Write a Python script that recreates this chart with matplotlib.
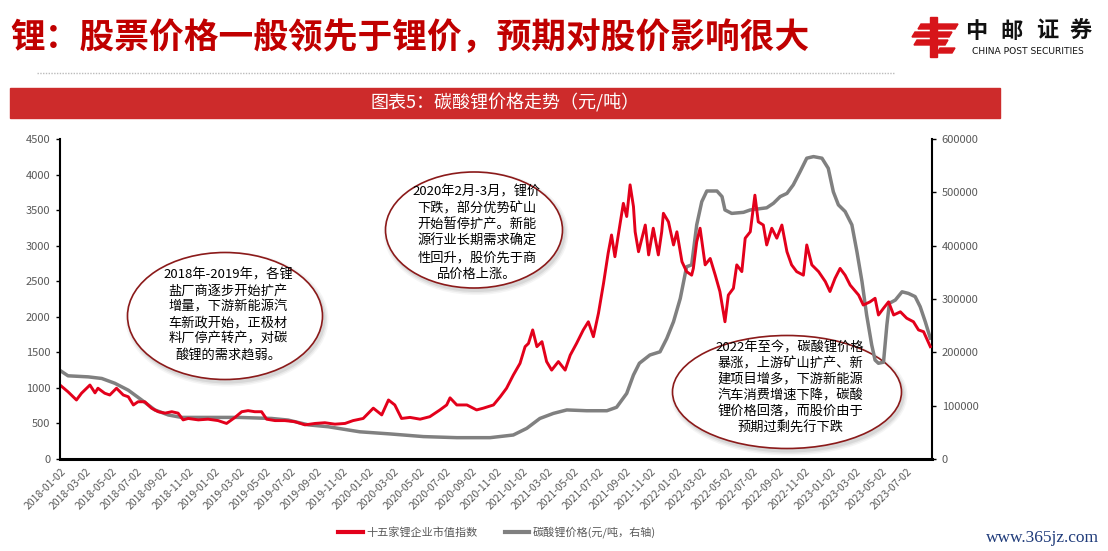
import matplotlib
matplotlib.use("Agg")
import matplotlib.pyplot as plt
from matplotlib.patches import Ellipse, Rectangle, Polygon
from matplotlib.lines import Line2D
import pandas as pd

plt.rcParams['font.family'] = ['Noto Sans CJK SC', 'DejaVu Sans']

# 十五家锂企业市值指数 (left axis)
index_dates = [
    "2018-01-02", "2018-01-19", "2018-02-08", "2018-02-20", "2018-03-12", "2018-03-24", "2018-03-31", "2018-04-16", "2018-04-28", "2018-05-14",
    "2018-05-30", "2018-06-11", "2018-06-23", "2018-07-04", "2018-07-20", "2018-08-05", "2018-08-21", "2018-09-06", "2018-09-22", "2018-10-07",
    "2018-10-19", "2018-10-31", "2018-11-24", "2018-12-17", "2019-01-10", "2019-01-30", "2019-02-19", "2019-03-07", "2019-03-22", "2019-04-07",
    "2019-04-23", "2019-05-05", "2019-05-25", "2019-06-17", "2019-07-11", "2019-08-04", "2019-08-28", "2019-09-20", "2019-10-14", "2019-11-07",
    "2019-11-26", "2019-12-20", "2020-01-13", "2020-02-02", "2020-02-18", "2020-03-04", "2020-03-20", "2020-04-09", "2020-05-03", "2020-05-26",
    "2020-06-19", "2020-07-05", "2020-07-13", "2020-07-29", "2020-08-22", "2020-09-14", "2020-09-30", "2020-10-24", "2020-11-09", "2020-11-24",
    "2020-12-10", "2020-12-26", "2021-01-07", "2021-01-15", "2021-01-25", "2021-02-04", "2021-02-16", "2021-02-27", "2021-03-11", "2021-03-27",
    "2021-04-12", "2021-04-24", "2021-05-09", "2021-05-25", "2021-06-06", "2021-06-18", "2021-06-30", "2021-07-12", "2021-07-23", "2021-07-31",
    "2021-08-08", "2021-08-16", "2021-08-28", "2021-09-05", "2021-09-13", "2021-09-21", "2021-09-25", "2021-10-03", "2021-10-11", "2021-10-19",
    "2021-10-27", "2021-11-07", "2021-11-19", "2021-11-27", "2021-12-01", "2021-12-13", "2021-12-25", "2022-01-02", "2022-01-14", "2022-01-25",
    "2022-02-06", "2022-02-10", "2022-02-18", "2022-02-26", "2022-03-10", "2022-03-22", "2022-04-03", "2022-04-14", "2022-04-26", "2022-05-04",
    "2022-05-16", "2022-05-24", "2022-06-05", "2022-06-13", "2022-06-25", "2022-07-06", "2022-07-14", "2022-07-26", "2022-08-03", "2022-08-15",
    "2022-08-27", "2022-09-08", "2022-09-20", "2022-10-01", "2022-10-13", "2022-10-29", "2022-11-06", "2022-11-18", "2022-12-04", "2022-12-20",
    "2022-12-31", "2023-01-12", "2023-01-24", "2023-02-05", "2023-02-17", "2023-03-09", "2023-03-20", "2023-04-05", "2023-04-17", "2023-04-25",
    "2023-05-07", "2023-05-19", "2023-05-31", "2023-06-16", "2023-07-01", "2023-07-17", "2023-07-29", "2023-08-10", "2023-08-26",
]
index_values = [
    1030, 945, 830, 925, 1040, 930, 995, 925, 900, 995,
    900, 875, 760, 805, 805, 715, 665, 645, 665, 645,
    550, 570, 550, 560, 540, 500, 585, 665, 680, 665,
    665, 560, 540, 540, 525, 480, 500, 510, 490, 500,
    540, 570, 715, 620, 830, 760, 570, 585, 560, 595,
    690, 760, 860, 760, 760, 690, 715, 760, 875, 995,
    1180, 1345, 1580, 1625, 1815, 1580, 1650, 1370, 1250, 1370,
    1250, 1460, 1625, 1815, 1930, 1720, 2050, 2470, 2895, 3150,
    2845, 3150, 3595, 3410, 3855, 3550, 3195, 2915, 3105, 3290,
    2870, 3245, 2870, 3195, 3455, 3335, 3010, 3195, 2775, 2635,
    2585, 2680, 3055, 3245, 2730, 2820, 2585, 2355, 1930, 2305,
    2400, 2730, 2635, 3105, 3195, 3710, 3335, 3290, 3010, 3245,
    3105, 3290, 2915, 2730, 2635, 2585, 3010, 2730, 2635, 2495,
    2355, 2540, 2680, 2585, 2445, 2305, 2165, 2210, 2260, 2025,
    2120, 2210, 2025, 2070, 1980, 1930, 1815, 1790, 1580,
]

# 碳酸锂价格 (元/吨, right axis)
price_dates = [
    "2018-01-02", "2018-01-19", "2018-03-08", "2018-04-09", "2018-05-10", "2018-06-11", "2018-07-12", "2018-08-13", "2018-09-14", "2018-10-15",
    "2018-12-10", "2019-02-27", "2019-05-17", "2019-06-25", "2019-08-12", "2019-09-28", "2019-11-26", "2019-12-12", "2020-02-22", "2020-05-11",
    "2020-07-29", "2020-10-16", "2020-12-10", "2021-01-11", "2021-02-11", "2021-03-15", "2021-04-16", "2021-06-02", "2021-07-20", "2021-08-12",
    "2021-09-05", "2021-09-21", "2021-10-05", "2021-10-30", "2021-11-23", "2021-12-09", "2021-12-25", "2022-01-10", "2022-01-25", "2022-02-06",
    "2022-02-18", "2022-03-02", "2022-03-14", "2022-04-07", "2022-04-19", "2022-04-26", "2022-05-12", "2022-06-09", "2022-06-25", "2022-08-03",
    "2022-08-19", "2022-09-04", "2022-09-20", "2022-10-05", "2022-10-21", "2022-11-06", "2022-11-22", "2022-12-12", "2022-12-27", "2023-01-08",
    "2023-01-20", "2023-02-05", "2023-02-21", "2023-03-05", "2023-03-17", "2023-03-28", "2023-04-09", "2023-04-17", "2023-04-25", "2023-05-07",
    "2023-05-15", "2023-05-21", "2023-06-04", "2023-06-20", "2023-07-05", "2023-07-21", "2023-08-02", "2023-08-14", "2023-08-26",
]
price_values = [
    165000, 156000, 154000, 151000, 142000, 129000, 111000, 92000, 82500, 78000,
    78000, 78000, 76000, 73000, 64000, 60500, 53000, 51000, 47000, 42000,
    40000, 40000, 45000, 57500, 76000, 85500, 92000, 90500, 90500, 97000,
    123000, 157500, 179500, 195000, 201000, 226000, 257500, 301000, 360500, 364000,
    439000, 482500, 502500, 502500, 492000, 467000, 460500, 462500, 467000, 471000,
    479500, 492000, 498000, 514000, 538500, 564000, 567000, 564000, 545000, 501000,
    476500, 464000, 439000, 388500, 332500, 270000, 214000, 185500, 179500, 181500,
    251500, 292000, 298000, 313500, 310500, 304500, 285500, 257500, 226500,
]

tick_dates = pd.date_range("2018-01-01", "2023-07-01", freq="2MS") + pd.Timedelta(days=1)
tick_labels = [d.strftime("%Y-%m-%d") for d in tick_dates]

series_labels = ["十五家锂企业市值指数", "碳酸锂价格(元/吨，右轴)"]

notes = [
    ["2018年-2019年，各锂", "盐厂商逐步开始扩产", "增量，下游新能源汽", "车新政开始，正极材", "料厂停产转产，对碳", "酸锂的需求趋弱。"],
    ["2020年2月-3月，锂价", "下跌，部分优势矿山", "开始暂停扩产。新能", "源行业长期需求确定", "性回升，股价先于商", "品价格上涨。"],
    ["2022年至今，碳酸锂价格", "暴涨，上游矿山扩产、新", "建项目增多，下游新能源", "汽车消费增速下降，碳酸", "锂价格回落，而股价由于", "预期过剩先行下跌"],
]

RED = "#E3001B"
GRAY = "#808080"
TXT = "#595959"

fig = plt.figure(figsize=(11.08, 5.51), dpi=100)

# background layer in pixel coordinates (title, logo, banner, notes)
bg = fig.add_axes([0, 0, 1, 1], zorder=0)
bg.set_xlim(0, 1108)
bg.set_ylim(551, 0)
bg.axis("off")

bg.text(10, 38, "锂：股票价格一般领先于锂价，预期对股价影响很大", color="#C00000",
        fontsize=25, fontweight="bold", ha="left", va="center")

# rough China Post emblem
for pts in [
    [(930, 17), (937, 17), (937, 57), (930, 57)],
    [(921, 24), (958, 24), (955, 29), (918, 29)],
    [(915, 32), (952, 32), (949, 37), (912, 37)],
    [(917, 40), (948, 40), (945, 45), (914, 45)],
    [(940, 48), (955, 48), (952, 53), (937, 53)],
]:
    bg.add_patch(Polygon(pts, closed=True, color="#D7141A"))
for ch, cx in zip("中邮证券", [976, 1012, 1047, 1081]):
    bg.text(cx, 31, ch, fontsize=16, fontweight="bold", ha="center", va="center", color="#111111")
bg.text(1028, 51, "CHINA POST SECURITIES", fontsize=6.6, ha="center", va="center",
        color="#111111", family="DejaVu Sans")

bg.plot([37, 895], [73, 73], color="#BBBBBB", lw=1, linestyle=(0, (1, 1)))

bg.add_patch(Rectangle((10, 88), 990, 30, color="#CD2B2B"))
bg.text(505, 103, "图表5：碳酸锂价格走势（元/吨）", color="white", fontsize=13, ha="center", va="center")

# callout ellipses: centre x, centre y, width, height, first line y, line step
ell_specs = [
    (225, 316, 195, 127, 275, 16),
    (474, 230, 177, 116, 192, 16.5),
    (787, 392, 229, 113, 348, 16),
]
for (cx, cy, w, h, y0, step), lines in zip(ell_specs, notes):
    for k, a in [(8, 0.04), (5, 0.05), (2, 0.07)]:
        bg.add_patch(Ellipse((cx + 2, cy + 3), w + k, h + k, fc="black", ec="none", alpha=a))
    bg.add_patch(Ellipse((cx, cy), w, h, fc="white", ec="#8B1A1A", lw=1.2))
    for i, line in enumerate(lines):
        bg.text(cx + 3, y0 + i * step, line, fontsize=9.5, ha="center", va="center", color="black")

bg.text(1042, 538, "www.365jz.com", color="#1F3B7A", fontsize=12.5, family="Liberation Serif",
        ha="center", va="center")

# chart
ax = fig.add_axes([60 / 1108, 1 - 459 / 551, 872 / 1108, 320 / 551])
ax2 = ax.twinx()
ax.set_zorder(2)
ax2.set_zorder(1)
ax.patch.set_visible(False)
ax2.patch.set_visible(False)

ax2.plot(pd.to_datetime(price_dates), price_values, color=GRAY, lw=2.5, solid_joinstyle="round")
ax.plot(pd.to_datetime(index_dates), index_values, color=RED, lw=2.1, solid_joinstyle="round")

ax.set_xlim(pd.Timestamp("2017-12-31"), pd.Timestamp("2023-08-30"))
ax.set_ylim(0, 4500)
ax.set_yticks(range(0, 4501, 500))
ax2.set_ylim(0, 600000)
ax2.set_yticks(range(0, 600001, 100000))

ax.set_xticks(tick_dates)
ax.set_xticklabels(tick_labels, rotation=45, ha="right", rotation_mode="anchor")

for s in ["top", "right"]:
    ax.spines[s].set_visible(False)
for s in ["top", "left", "bottom"]:
    ax2.spines[s].set_visible(False)
ax.spines["left"].set_linewidth(1.5)
ax.spines["bottom"].set_linewidth(2.2)
ax2.spines["right"].set_linewidth(1.5)

ax.tick_params(axis="y", direction="out", length=3, width=1, labelsize=8, labelcolor=TXT, pad=4)
ax.tick_params(axis="x", length=0, labelsize=7.5, labelcolor=TXT, pad=5)
ax2.tick_params(axis="y", direction="out", length=3, width=1, labelsize=8, labelcolor=TXT, pad=4)

handles = [Line2D([], [], color=RED, lw=3), Line2D([], [], color=GRAY, lw=3)]
fig.legend(handles, series_labels, loc="center", bbox_to_anchor=(497 / 1108, 1 - 532 / 551),
           ncol=2, frameon=False, fontsize=8, labelcolor=TXT, handlelength=2.2,
           handletextpad=0.3, columnspacing=2.5)

fig.savefig("out.png", dpi=100)
